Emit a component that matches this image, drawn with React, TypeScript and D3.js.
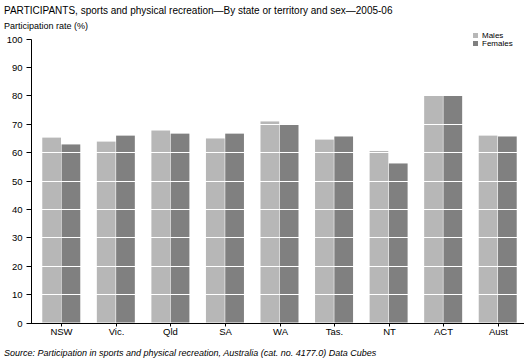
import React, { useEffect, useRef } from 'react';
import * as d3 from 'd3';

const states = ['NSW', 'Vic.', 'Qld', 'SA', 'WA', 'Tas.', 'NT', 'ACT', 'Aust'];
const males = [65.1, 63.7, 67.6, 64.8, 70.8, 64.4, 60.4, 79.9, 65.8];
const females = [62.7, 65.8, 66.5, 66.5, 69.9, 65.5, 56.0, 79.9, 65.5];
const seriesNames = ['Males', 'Females'];
const yTicks = [0, 10, 20, 30, 40, 50, 60, 70, 80, 90, 100];

const W = 529;
const H = 363;
const FONT = '"Liberation Sans", Arial, sans-serif';
const colors = ['#b7b7b7', '#808080'];

export default function App() {
    const ref = useRef<SVGSVGElement>(null);

    useEffect(() => {
        const svg = d3.select(ref.current);
        svg.selectAll('*').remove();

        const axisLeft = 31;
        const axisRight = 524;
        const y0 = 322.5;
        const y100 = 38.5;

        const x = d3.scaleBand<string>().domain(states).range([34, 525]);
        const x1 = d3.scaleBand<string>().domain(seriesNames).range([0, 38]).paddingInner(0.03);
        const y = d3.scaleLinear().domain([0, 100]).range([y0, y100]);

        const rows = states.map((s, i) => ({ state: s, vals: [males[i], females[i]] }));

        // bars
        const g = svg.append('g');
        rows.forEach(r => {
            const cx = x(r.state)! + x.bandwidth() / 2;
            r.vals.forEach((v, j) => {
                g.append('rect')
                    .attr('x', cx - 19 + x1(seriesNames[j])!)
                    .attr('y', y(v))
                    .attr('width', x1.bandwidth())
                    .attr('height', y0 - y(v))
                    .attr('fill', colors[j]);
            });
        });

        // white gridlines over bars
        svg.append('g')
            .selectAll('line')
            .data(yTicks.slice(1))
            .enter()
            .append('line')
            .attr('x1', axisLeft + 1)
            .attr('x2', axisRight)
            .attr('y1', d => Math.round(y(d)) + 0.5)
            .attr('y2', d => Math.round(y(d)) + 0.5)
            .attr('stroke', '#fff')
            .attr('stroke-width', 1);

        // y axis
        const ya = svg.append('g').attr('transform', 'translate(' + (axisLeft + 0.5) + ',0)');
        ya.append('line')
            .attr('x1', 0).attr('x2', 0)
            .attr('y1', Math.round(y100) + 0.5).attr('y2', Math.round(y0) + 0.5)
            .attr('stroke', '#000');
        yTicks.forEach(t => {
            const yy = Math.round(y(t)) + 0.5;
            ya.append('line').attr('x1', -5).attr('x2', 0).attr('y1', yy).attr('y2', yy).attr('stroke', '#000');
            ya.append('text')
                .attr('x', -9)
                .attr('y', yy + 3.5)
                .attr('text-anchor', 'end')
                .style('font-family', FONT)
                .style('font-size', '9.5px')
                .text(t);
        });

        // x axis
        const xa = svg.append('g');
        xa.append('line')
            .attr('x1', axisLeft).attr('x2', axisRight)
            .attr('y1', Math.round(y0) + 0.5).attr('y2', Math.round(y0) + 0.5)
            .attr('stroke', '#000');
        states.forEach(s => {
            const cx = Math.round(x(s)! + x.bandwidth() / 2) + 0.5;
            xa.append('line').attr('x1', cx).attr('x2', cx)
                .attr('y1', Math.round(y0) + 0.5).attr('y2', Math.round(y0) + 3.5)
                .attr('stroke', '#000');
            xa.append('text')
                .attr('x', cx)
                .attr('y', 335)
                .attr('text-anchor', 'middle')
                .style('font-family', FONT)
                .style('font-size', '9.5px')
                .text(s);
        });

        // legend
        seriesNames.forEach((n, i) => {
            const ly = 33 + i * 8;
            svg.append('rect').attr('x', 473).attr('y', ly).attr('width', 5).attr('height', 5).attr('fill', colors[i]);
            svg.append('text')
                .attr('x', 482).attr('y', ly + 5)
                .style('font-family', FONT)
                .style('font-size', '8px')
                .text(n);
        });

        // titles
        svg.append('text')
            .attr('x', 4).attr('y', 14)
            .style('font-family', FONT)
            .style('font-size', '10px')
            .text('PARTICIPANTS, sports and physical recreation\u2014By state or territory and sex\u20142005-06');
        svg.append('text')
            .attr('x', 4).attr('y', 29)
            .style('font-family', FONT)
            .style('font-size', '9px')
            .text('Participation rate (%)');
        svg.append('text')
            .attr('x', 4).attr('y', 356)
            .style('font-family', FONT)
            .style('font-size', '9px')
            .style('font-style', 'italic')
            .text('Source: Participation in sports and physical recreation, Australia  (cat. no. 4177.0) Data Cubes');
    }, []);

    return (
        <svg ref={ref} width={W} height={H}
            style={{ position: 'absolute', left: 0, top: 0, background: '#fff' }} />
    );
}
